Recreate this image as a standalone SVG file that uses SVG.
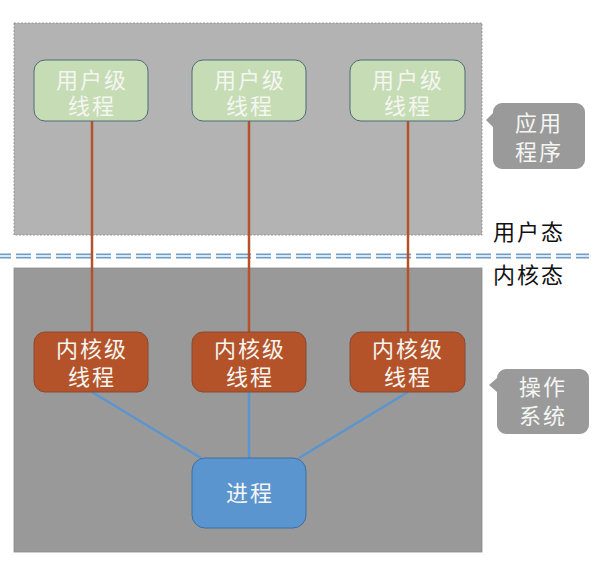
<svg xmlns="http://www.w3.org/2000/svg" width="616" height="580" viewBox="0 0 616 580">
<style>
.t{font-family:"Noto Sans CJK SC","Noto Sans",sans-serif;font-size:22px;letter-spacing:2px;text-anchor:middle;fill:#f4f6f2}
.lab{font-family:"Noto Sans CJK SC","Noto Sans",sans-serif;font-size:22px;letter-spacing:2px;fill:#111111}
.u{fill:#c6dcb4;stroke:#4e6a78;stroke-width:1}
.k{fill:#b4532a;stroke:#8a4a30;stroke-width:1}
.p{fill:#5b95d0;stroke:#3f6f9e;stroke-width:1}
.call{fill:#9a9a9a}
.ul{stroke:#b4532a;stroke-width:2.5;fill:none}
.bl{stroke:#5b95d0;stroke-width:2.5;fill:none}
.dash{stroke:#6f9cc8;stroke-width:1.8;stroke-dasharray:15 5;fill:none}
</style>
<rect width="616" height="580" fill="#ffffff"/>
<g id="user-space">
<rect x="14" y="23" width="468" height="212" fill="#b3b3b3" stroke="#888888" stroke-width="0.8" stroke-dasharray="2 1.5"/>
</g>
<g id="kernel-space">
<rect x="14" y="268" width="468" height="284" fill="#999999" stroke="#888888" stroke-width="0.8"/>
</g>
<g id="divider">
<line class="dash" x1="-4" y1="254.3" x2="589" y2="254.3"/>
<line class="dash" x1="-4" y1="257.7" x2="589" y2="257.7"/>
</g>
<g id="connectors">
<line class="ul" x1="92" y1="121" x2="92" y2="332"/>
<line class="ul" x1="249" y1="121" x2="249" y2="332"/>
<line class="ul" x1="408" y1="121" x2="408" y2="332"/>
<line class="bl" x1="92" y1="392" x2="201" y2="458"/>
<line class="bl" x1="249" y1="392" x2="249" y2="458"/>
<line class="bl" x1="408" y1="392" x2="299" y2="458"/>
</g>
<g id="ut1"><rect class="u" x="34" y="60" width="114" height="61" rx="11"/><text class="t" x="92" y="88">用户级<tspan x="92" dy="26">线程</tspan></text></g>
<g id="ut2"><rect class="u" x="192" y="60" width="114" height="61" rx="11"/><text class="t" x="250" y="88">用户级<tspan x="250" dy="26">线程</tspan></text></g>
<g id="ut3"><rect class="u" x="350" y="60" width="115" height="61" rx="11"/><text class="t" x="408" y="88">用户级<tspan x="408" dy="26">线程</tspan></text></g>
<g id="kt1"><rect class="k" x="34" y="332" width="114" height="60" rx="11"/><text class="t" x="92" y="357">内核级<tspan x="92" dy="28">线程</tspan></text></g>
<g id="kt2"><rect class="k" x="192" y="332" width="114" height="60" rx="11"/><text class="t" x="250" y="357">内核级<tspan x="250" dy="28">线程</tspan></text></g>
<g id="kt3"><rect class="k" x="350" y="332" width="115" height="60" rx="11"/><text class="t" x="408" y="357">内核级<tspan x="408" dy="28">线程</tspan></text></g>
<g id="process"><rect class="p" x="192" y="458" width="114" height="70" rx="13"/><text class="t" x="250" y="501">进程</text></g>
<g id="app-callout">
<path class="call" d="M502,103 H576 A9,9 0 0 1 585,112 V160 A9,9 0 0 1 576,169 H502 A9,9 0 0 1 493,160 V127 L486,120 L493,113 V112 A9,9 0 0 1 502,103 Z"/>
<text class="t" x="539" y="131">应用<tspan x="539" dy="29">程序</tspan></text>
</g>
<g id="os-callout">
<path class="call" d="M506,369 H580 A9,9 0 0 1 589,378 V425 A9,9 0 0 1 580,434 H506 A9,9 0 0 1 497,425 V392 L489,385 L497,378 A9,9 0 0 1 506,369 Z"/>
<text class="t" x="543" y="395">操作<tspan x="543" dy="29">系统</tspan></text>
</g>
<g id="labels">
<text class="lab" x="493" y="240">用户态</text>
<text class="lab" x="493" y="283">内核态</text>
</g>
</svg>
